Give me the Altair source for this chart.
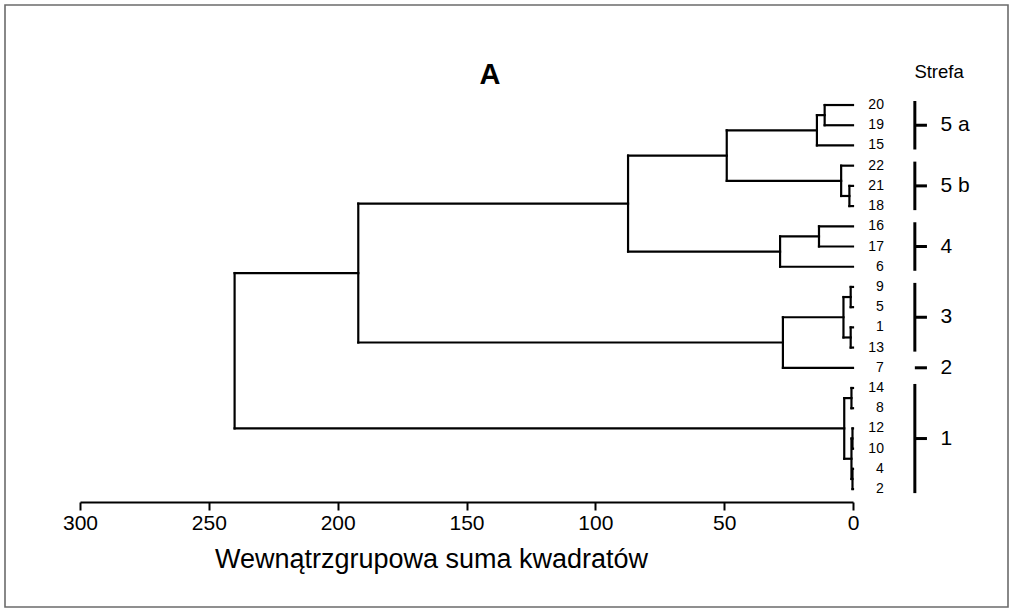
import altair as alt
import pandas as pd

# Leaf order (top to bottom) of the Ward dendrogram
leaf_labels = ["20", "19", "15", "22", "21", "18", "16", "17", "6",
               "9", "5", "1", "13", "7", "14", "8", "12", "10", "4", "2"]

# Agglomeration steps: joined clusters and within-group sum of squares
merge_left = ["20", "n0", "21", "22", "n1", "16", "n5", "n4", "9", "1",
              "n8", "n10", "n7", "14", "12", "4", "n14", "n13", "n12"]
merge_right = ["19", "15", "18", "n2", "n3", "17", "6", "n6", "5", "13",
               "n9", "7", "n11", "8", "10", "2", "n15", "n16", "n17"]
merge_height = [11.0, 14.0, 1.4, 4.6, 49.0, 13.2, 28.3, 87.3, 0.9, 0.9,
                3.7, 27.2, 192.0, 0.6, 0.2, 0.2, 0.6, 3.4, 240.0]

# Zones (Strefa) with their first and last leaf
zone_names = ["5 a", "5 b", "4", "3", "2", "1"]
zone_first = ["20", "22", "16", "9", "7", "14"]
zone_last = ["15", "18", "6", "13", "7", "2"]

axis_values = [300, 250, 200, 150, 100, 50, 0]

# ---- dendrogram layout: leaves at integer rows, nodes at the mean of their children
pos = {lab: float(i) for i, lab in enumerate(leaf_labels)}
hgt = {lab: 0.0 for lab in leaf_labels}
segs = []
for k, (a, b, h) in enumerate(zip(merge_left, merge_right, merge_height)):
    name = f"n{k}"
    segs.append({"x": h, "x2": h, "y": pos[a], "y2": pos[b]})
    segs.append({"x": hgt[a], "x2": h, "y": pos[a], "y2": pos[a]})
    segs.append({"x": hgt[b], "x2": h, "y": pos[b], "y2": pos[b]})
    pos[name] = (pos[a] + pos[b]) / 2
    hgt[name] = h
seg_df = pd.DataFrame(segs)

leaf_df = pd.DataFrame({"label": leaf_labels, "y": [pos[l] for l in leaf_labels]})

zone_rows = []
for z, f, l in zip(zone_names, zone_first, zone_last):
    zone_rows.append({"zone": z, "y0": pos[f] - 0.2, "y1": pos[l] + 0.2,
                      "mid": (pos[f] + pos[l]) / 2, "multi": f != l})
zone_df = pd.DataFrame(zone_rows)

X = alt.Scale(domain=[0, 300], reverse=True, nice=False)
Y = alt.Scale(domain=[-2.97, 19.64], reverse=True, nice=False, zero=False)

LABEL_FONT = "Liberation Sans Narrow, Liberation Sans, Arial, sans-serif"
FONT = "Liberation Sans, Arial, sans-serif"

tree = alt.Chart(seg_df).mark_rule(color="black", strokeWidth=2.2, strokeCap="square").encode(
    x=alt.X("x:Q", scale=X, axis=alt.Axis(
        values=axis_values, format="d", grid=False,
        domainColor="black", domainWidth=2, tickColor="black", tickWidth=2, tickSize=8,
        labelFont=LABEL_FONT, labelFontSize=21, labelColor="black", labelPadding=2,
        labelFlush=False,
        title="Wewnątrzgrupowa suma kwadratów", titleFont=LABEL_FONT, titleFontSize=27,
        titleFontWeight="normal", titleColor="black", titleX=351, titleY=65,
        titleAnchor="middle", titleBaseline="alphabetic")),
    x2="x2:Q",
    y=alt.Y("y:Q", scale=Y, axis=None),
    y2="y2:Q",
)

leaf_text = alt.Chart(leaf_df).mark_text(
    align="right", baseline="middle", fontSize=14, font=FONT, color="black"
).encode(x=alt.datum(-12.0), y=alt.Y("y:Q", scale=Y), text="label:N")

zone_bar = alt.Chart(zone_df).transform_filter("datum.multi").mark_rule(
    color="black", strokeWidth=3
).encode(x=alt.datum(-24.0), y=alt.Y("y0:Q", scale=Y), y2="y1:Q")

zone_tick = alt.Chart(zone_df).mark_rule(color="black", strokeWidth=3).encode(
    x=alt.datum(-24.0), x2=alt.datum(-28.7), y=alt.Y("mid:Q", scale=Y)
)

zone_text = alt.Chart(zone_df).mark_text(
    align="left", baseline="middle", fontSize=21, font=FONT, color="black"
).encode(x=alt.datum(-34.0), y=alt.Y("mid:Q", scale=Y), text="zone:N")

header = alt.Chart(pd.DataFrame({"t": ["Strefa"]})).mark_text(
    align="center", baseline="middle", fontSize=18.5, font=FONT, color="black"
).encode(x=alt.datum(-33.4), y=alt.datum(-1.63), text="t:N")

panel = alt.Chart(pd.DataFrame({"t": ["A"]})).mark_text(
    align="center", baseline="middle", fontSize=29, fontWeight="bold", font=FONT, color="black"
).encode(x=alt.datum(140.9), y=alt.datum(-1.48), text="t:N")

frame = alt.Chart(pd.DataFrame({"k": [0]})).mark_rect(
    fillOpacity=0, stroke="#6b6b6b", strokeWidth=1.6
).encode(x=alt.value(-75), x2=alt.value(928), y=alt.value(-40), y2=alt.value(562))

chart = alt.layer(frame, tree, leaf_text, zone_bar, zone_tick, zone_text, header, panel).properties(
    width=773, height=457,
    autosize=alt.AutoSizeParams(type="none"),
    padding={"left": 80, "top": 45, "right": 158, "bottom": 108},
    background="white",
).configure_view(strokeWidth=0)

chart.save("out.html", embed_options={"renderer": "svg", "actions": False})
